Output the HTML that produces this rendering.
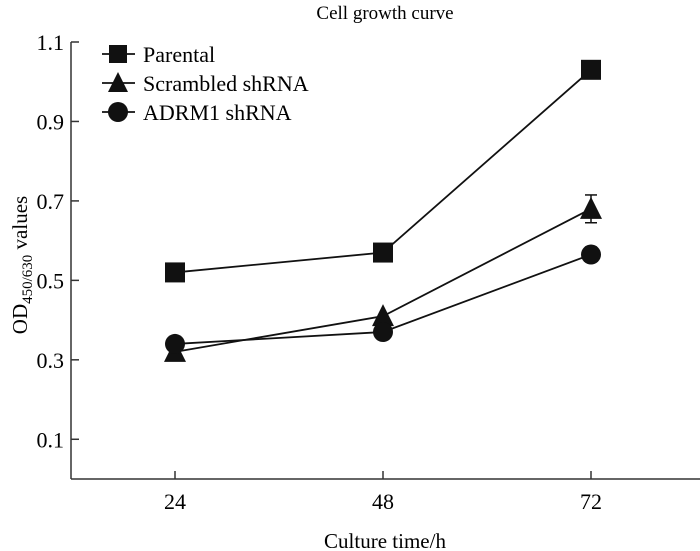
<!DOCTYPE html>
<html><head><meta charset="utf-8"><style>
body{margin:0;background:#fff}
svg{display:block;font-family:"Liberation Serif",serif}
</style></head><body>
<svg id="chart" width="700" height="551">
<text x="385" y="19" font-size="19" text-anchor="middle">Cell growth curve</text>
<g id="axes"></g><g id="plot"></g><g id="legend"></g>
<text x="385" y="548" font-size="21" text-anchor="middle">Culture time/h</text>
<text transform="translate(27,265) rotate(-90)" font-size="21" text-anchor="middle">OD<tspan font-size="15" dy="5">450/630</tspan><tspan dy="-5"> values</tspan></text>
</svg>
<script>
const categories=[24,48,72];
const yTicks=[0.1,0.3,0.5,0.7,0.9,1.1];
const seriesNames=["Parental","Scrambled shRNA","ADRM1 shRNA"];
const parental=[0.52,0.57,1.03];
const scrambled=[0.32,0.41,0.68];
const scrambledErr=[0,0,0.035];
const adrm1=[0.34,0.37,0.565];
const NS="http://www.w3.org/2000/svg";
const X=v=>71+(v-12)*(593-177)/48;
const Y=v=>479-v*(479-42)/1.1;
function mk(t,a,p){const e=document.createElementNS(NS,t);for(const k in a)e.setAttribute(k,a[k]);p.appendChild(e);return e;}
const ax=document.getElementById('axes'),pl=document.getElementById('plot'),lg=document.getElementById('legend');
let yl=mk('line',{x1:71,y1:42,x2:71,y2:479,stroke:'#333','stroke-width':1.5},ax);

let xl=mk('line',{x1:71,y1:479,x2:700,y2:479,stroke:'#333','stroke-width':1.5},ax);

yTicks.forEach(t=>{mk('line',{x1:71,x2:79,y1:Y(t),y2:Y(t),stroke:'#333','stroke-width':1.5},ax);
 const tx=mk('text',{x:64,y:Y(t)+8,'font-size':22,'text-anchor':'end'},ax);tx.textContent=t.toFixed(1);
 });
categories.forEach(c=>{mk('line',{x1:X(c),x2:X(c),y1:479,y2:471,stroke:'#333','stroke-width':1.5},ax);
 const tx=mk('text',{x:X(c),y:509,'font-size':22,'text-anchor':'middle'},ax);tx.textContent=c;
 });
function marker(type,x,y,p,s){
 let e;
 if(type==0)e=mk('rect',{x:x-s,y:y-s,width:2*s,height:2*s,fill:'#111'},p);
 else if(type==1)e=mk('polygon',{points:`${x},${y-s-2} ${x-s-1},${y+s} ${x+s+1},${y+s}`,fill:'#111'},p);
 else e=mk('circle',{cx:x,cy:y,r:s,fill:'#111'},p);
 return e;}
[parental,scrambled,adrm1].forEach((d,si)=>{
 const pts=categories.map((c,i)=>X(c)+','+Y(d[i])).join(' ');
 const l=mk('polyline',{points:pts,fill:'none',stroke:'#111','stroke-width':1.8},pl);
 
 
 categories.forEach((c,i)=>{
  if(si==1&&scrambledErr[i]>0){const x=X(c),y1=Y(d[i]+scrambledErr[i]),y2=Y(d[i]-scrambledErr[i]);
   mk('line',{x1:x,x2:x,y1:y1,y2:y2,stroke:'#111','stroke-width':1.5},pl);
   mk('line',{x1:x-6,x2:x+6,y1:y1,y2:y1,stroke:'#111','stroke-width':1.5},pl);
   mk('line',{x1:x-6,x2:x+6,y1:y2,y2:y2,stroke:'#111','stroke-width':1.5},pl);}
  const m=marker(si,X(c),Y(d[i]),pl,10);
  
  });
});
seriesNames.forEach((n,i)=>{const y=54+i*29;
 mk('line',{x1:102,x2:135,y1:y,y2:y,stroke:'#111','stroke-width':1.8},lg);
 const m=marker(i,118,y,lg,i==2?10:9);
 
 const t=mk('text',{x:143,y:y+8,'font-size':22},lg);t.textContent=n;
 });
</script>
</body></html>
